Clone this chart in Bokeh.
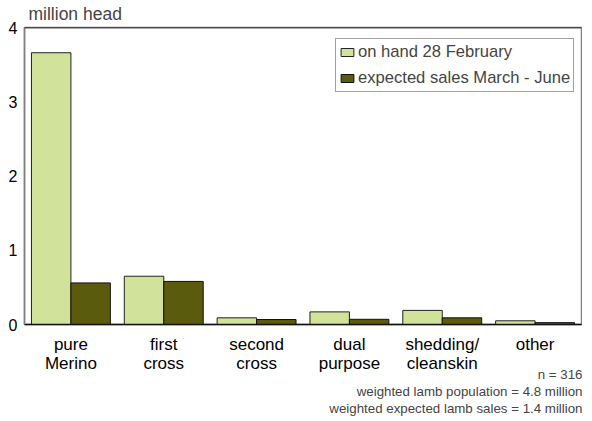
from bokeh.plotting import figure
from bokeh.models import ColumnDataSource, FactorRange, FixedTicker, Title, Span
from bokeh.transform import dodge
from bokeh.embed import file_html
from bokeh.resources import INLINE

categories = ["pure\nMerino", "first\ncross", "second\ncross", "dual\npurpose", "shedding/\ncleanskin", "other"]
on_hand = [3.66, 0.65, 0.09, 0.17, 0.19, 0.05]
expected_sales = [0.56, 0.58, 0.067, 0.07, 0.09, 0.025]
y_ticks = [0, 1, 2, 3, 4]
notes = ["n = 316", "weighted lamb population = 4.8 million", "weighted expected lamb sales = 1.4 million"]

FONT = "Liberation Sans"
LIGHT = "#d1e39b"
DARK = "#5b5b0d"

source = ColumnDataSource(dict(cat=categories, hand=on_hand, sales=expected_sales))

p = figure(x_range=FactorRange(*categories), y_range=(0, 4), width=582, height=417,
           output_backend="svg", toolbar_location=None,
           min_border_left=24, min_border_right=1, min_border_top=27, min_border_bottom=93)

p.vbar(x=dodge("cat", -0.2125, range=p.x_range), top="hand", width=0.425, source=source,
       fill_color=LIGHT, line_color="#222222", line_width=1, legend_label="on hand 28 February")
p.vbar(x=dodge("cat", 0.2125, range=p.x_range), top="sales", width=0.425, source=source,
       fill_color=DARK, line_color="#111111", line_width=1, legend_label="expected sales March - June")

p.title.text = "million head"
p.title.align = "left"
p.title.vertical_align = "top"
p.title.text_font = FONT
p.title.text_font_size = "17.5px"
p.title.text_font_style = "normal"
p.title.text_line_height = 1.0
p.title.offset = 4
p.title.standoff = 4

note_standoffs = [-19, 14, -14]
for t, s in zip(notes, note_standoffs):
    p.add_layout(Title(text=t, align="right", vertical_align="top", text_font=FONT,
                       text_font_size="13.3px", text_font_style="normal", standoff=s,
                       offset=-1, text_line_height=1.0), "below")

p.xgrid.visible = False
p.ygrid.visible = False
p.outline_line_color = "#808080"
p.outline_line_width = 1.5
p.add_layout(Span(location=4, dimension="width", line_color="#111111", line_width=1.5))

p.yaxis.ticker = FixedTicker(ticks=y_ticks)
p.yaxis.axis_line_color = "#808080"
p.yaxis.axis_line_width = 1.5
p.yaxis.major_tick_line_color = None
p.yaxis.minor_tick_line_color = None
p.yaxis.major_tick_out = 0
p.yaxis.major_label_standoff = 7
p.yaxis.major_label_text_font = FONT
p.yaxis.major_label_text_font_size = "16px"
p.yaxis.major_label_text_color = "black"

p.xaxis.axis_line_color = "#111111"
p.xaxis.axis_line_width = 1.5
p.xaxis.major_tick_line_color = None
p.xaxis.major_tick_out = 0
p.xaxis.major_label_standoff = 10
p.xaxis.major_label_text_font = FONT
p.xaxis.major_label_text_font_size = "17px"
p.xaxis.major_label_text_line_height = 1.05
p.xaxis.major_label_text_color = "black"

lg = p.legend[0]
lg.location = (311, 232)
lg.label_text_font = FONT
lg.label_text_font_size = "16.6px"
lg.glyph_width = 16
lg.glyph_height = 10
lg.label_standoff = 3
lg.label_height = 16
lg.spacing = 6
lg.padding = 3
lg.margin = 0
lg.border_line_color = "#444444"
lg.border_line_width = 1
lg.background_fill_alpha = 1

open("out.html", "w").write(file_html(p, INLINE))
